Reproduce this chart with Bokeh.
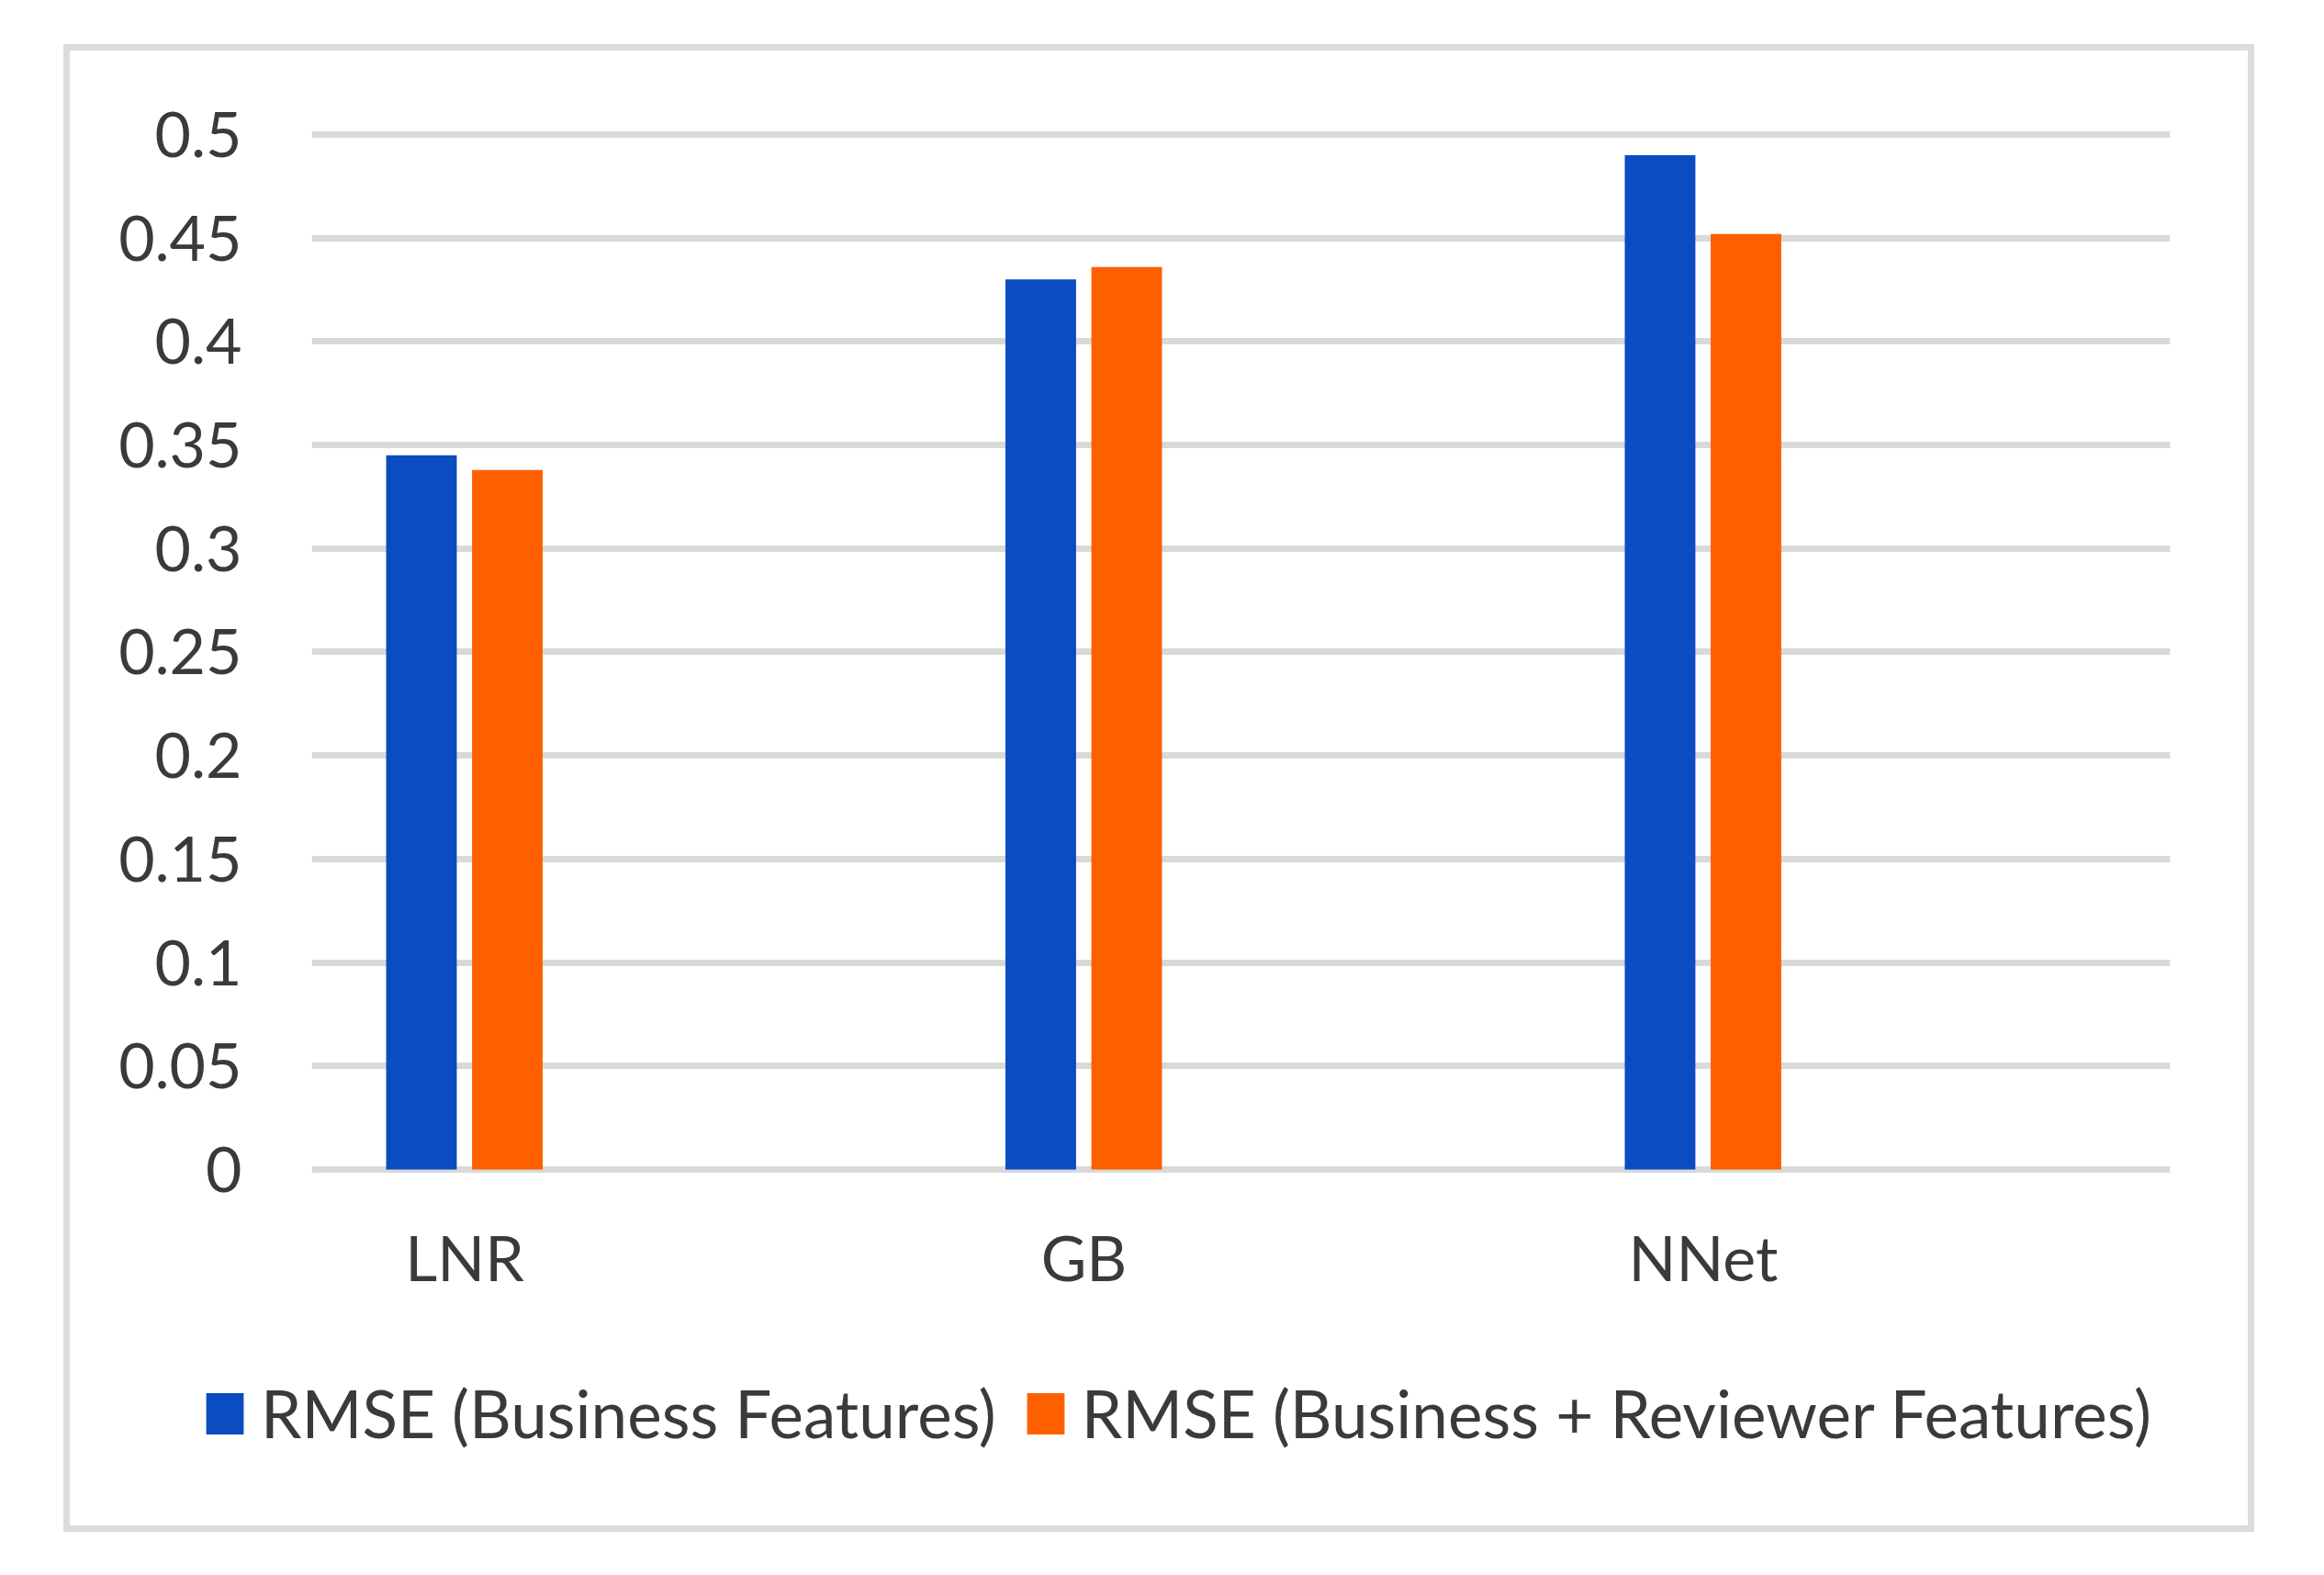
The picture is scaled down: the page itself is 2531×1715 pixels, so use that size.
from bokeh.plotting import figure
from bokeh.models import ColumnDataSource, Range1d, FixedTicker, Spacer, Legend, LegendItem
from bokeh.layouts import column, row
from bokeh.transform import dodge
from bokeh.embed import file_html
from bokeh.resources import INLINE

categories = ["LNR", "GB", "NNet"]
rmse_business = [0.345, 0.430, 0.490]
rmse_business_reviewer = [0.338, 0.436, 0.452]
series_labels = ["RMSE (Business Features)", "RMSE (Business + Reviewer Features)"]
y_ticks = [0, 0.05, 0.1, 0.15, 0.2, 0.25, 0.3, 0.35, 0.4, 0.45, 0.5]
y_tick_labels = ["0", "0.05", "0.1", "0.15", "0.2", "0.25", "0.3", "0.35", "0.4", "0.45", "0.5"]

BLUE = "#0b4cc1"
ORANGE = "#fe6000"
TEXT = "#3a3a3a"
GRID = "#d9d9d9"
FONT = "Lato"
FS = "68px"
LEGEND_FS = "71px"

src = ColumnDataSource(dict(
    x=list(range(len(categories))),
    cat=categories,
    a=rmse_business,
    b=rmse_business_reviewer,
))

# main chart: canvas starts at page (76, 55)
p = figure(width=2372, height=1365, output_backend="svg", toolbar_location=None,
           x_range=Range1d(-0.2469, 2.754), y_range=Range1d(-0.00754, 0.51153),
           min_border_left=263, min_border_right=85, min_border_top=65, min_border_bottom=130)
p.outline_line_color = None
p.background_fill_color = "white"
p.border_fill_color = "white"

p.vbar(x=dodge("x", -0.0697, range=p.x_range), top="a", width=0.114, source=src,
       fill_color=BLUE, line_color=None)
p.vbar(x=dodge("x", 0.069, range=p.x_range), top="b", width=0.114, source=src,
       fill_color=ORANGE, line_color=None)

p.xgrid.grid_line_color = None
p.ygrid.grid_line_color = GRID
p.ygrid.grid_line_width = 7
p.ygrid.ticker = FixedTicker(ticks=y_ticks)

p.yaxis.ticker = FixedTicker(ticks=y_ticks)
p.yaxis.major_label_overrides = {t: l for t, l in zip(y_ticks, y_tick_labels)}
p.xaxis.ticker = FixedTicker(ticks=list(range(len(categories))))
p.xaxis.major_label_overrides = {i: c for i, c in enumerate(categories)}

for ax in (p.xaxis[0], p.yaxis[0]):
    ax.axis_line_color = None
    ax.major_tick_line_color = None
    ax.minor_tick_line_color = None
    ax.major_tick_in = 0
    ax.major_tick_out = 0
    ax.major_label_text_font = FONT
    ax.major_label_text_font_size = FS
    ax.major_label_text_color = TEXT
p.yaxis.major_label_standoff = 76
p.xaxis.major_label_standoff = 37

# legend strip below the chart (its own bars sit outside its visible range)
q = figure(width=2372, height=241, output_backend="svg", toolbar_location=None,
           x_range=Range1d(0, 1), y_range=Range1d(5, 6),
           min_border=0, x_axis_type=None, y_axis_type=None)
q.outline_line_color = None
q.xgrid.grid_line_color = None
q.ygrid.grid_line_color = None
q.border_fill_color = "white"
ra = q.vbar(x="x", top="a", width=0.1, source=src, fill_color=BLUE, line_color=None)
rb = q.vbar(x="x", top="b", width=0.1, source=src, fill_color=ORANGE, line_color=None)
lg = Legend(items=[LegendItem(label=series_labels[0], renderers=[ra], index=0),
                   LegendItem(label=series_labels[1], renderers=[rb], index=0)],
            orientation="horizontal", location=(143, 80),
            glyph_width=51, glyph_height=56, label_standoff=14, spacing=28,
            padding=0, margin=0, border_line_color=None, background_fill_alpha=0,
            label_text_font=FONT, label_text_font_size=LEGEND_FS, label_text_color=TEXT)
q.add_layout(lg)

chart = column(p, row(q), styles={"border": "7px solid #dcdcdc"})
page = column(Spacer(height=48), row(Spacer(width=69), chart))

open("out.html", "w").write(file_html(page, INLINE))
